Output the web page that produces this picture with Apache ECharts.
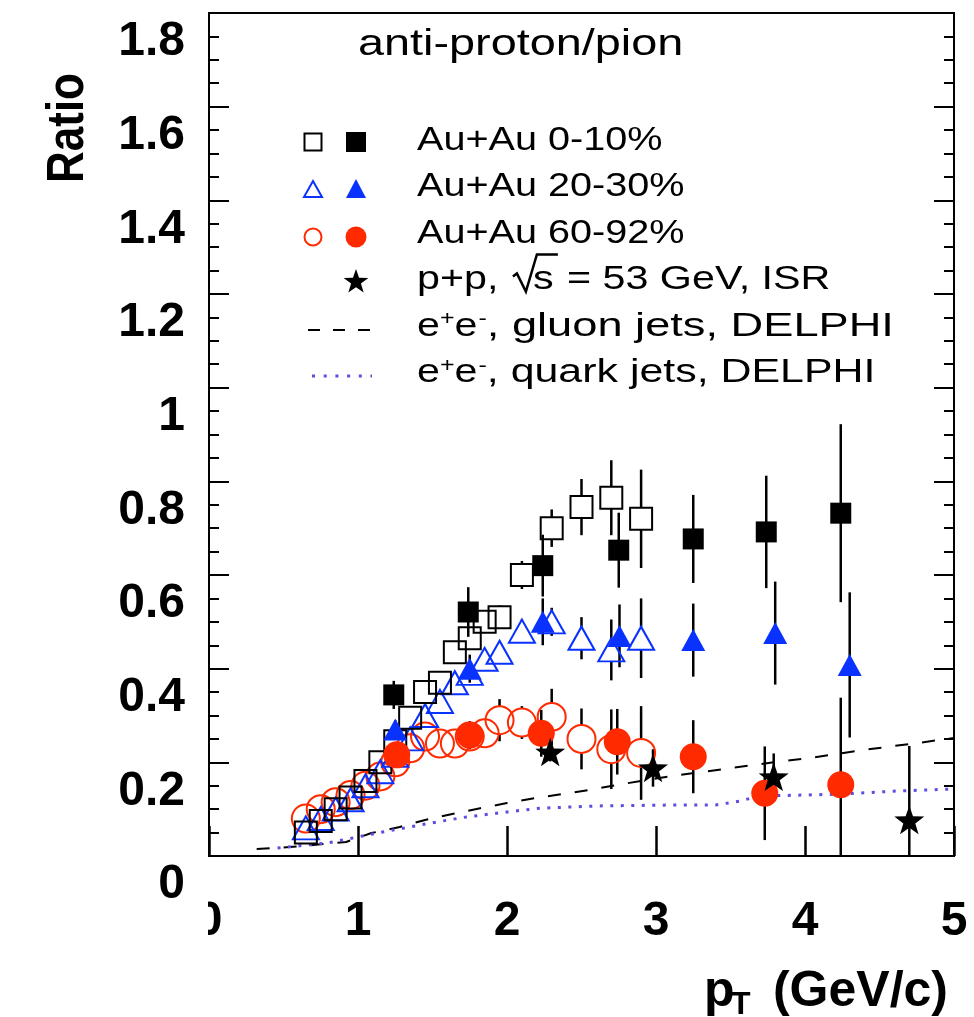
<!DOCTYPE html>
<html><head><meta charset="utf-8">
<script src="https://cdn.jsdelivr.net/npm/echarts@6/dist/echarts.min.js"></script>
<style>html,body{margin:0;padding:0;background:#fff}#c{width:974px;height:1017px}</style>
</head><body><div id="c"></div>
<script>
// ---------------- data ----------------
const xTickLabels = ['0', '1', '2', '3', '4', '5'];
const yTickLabels = ['0', '0.2', '0.4', '0.6', '0.8', '1', '1.2', '1.4', '1.6', '1.8'];

// open markers (low-pT identified spectra)
const ptOpen = [0.65, 0.75, 0.85, 0.95, 1.05, 1.15, 1.25, 1.35, 1.45, 1.55, 1.65, 1.75, 1.85, 1.95, 2.1, 2.3, 2.5, 2.7, 2.9];
const auau010Open = [0.050, 0.075, 0.100, 0.125, 0.160, 0.200, 0.245, 0.295, 0.350, 0.370, 0.435, 0.465, 0.500, 0.510, 0.600, 0.700, 0.745, 0.765, 0.720];
const auau010OpenErr = [0.004, 0.005, 0.006, 0.007, 0.008, 0.009, 0.010, 0.012, 0.013, 0.015, 0.017, 0.020, 0.022, 0.025, 0.030, 0.040, 0.060, 0.080, 0.105];
const auau2030Open = [0.060, 0.080, 0.100, 0.120, 0.150, 0.180, 0.215, 0.250, 0.300, 0.330, 0.370, 0.390, 0.420, 0.435, 0.480, 0.500, 0.465, 0.440, 0.465];
const auau2030OpenErr = [0.004, 0.005, 0.005, 0.006, 0.007, 0.008, 0.009, 0.010, 0.012, 0.014, 0.016, 0.018, 0.020, 0.022, 0.025, 0.030, 0.045, 0.065, 0.085];
const auau6092Open = [0.080, 0.100, 0.115, 0.130, 0.150, 0.170, 0.200, 0.230, 0.255, 0.240, 0.240, 0.255, 0.262, 0.290, 0.285, 0.297, 0.250, 0.228, 0.220];
const auau6092OpenErr = [0.005, 0.005, 0.006, 0.007, 0.008, 0.009, 0.010, 0.011, 0.013, 0.015, 0.017, 0.020, 0.022, 0.045, 0.035, 0.060, 0.065, 0.085, 0.100];

// filled markers (high-pT)
const ptFilled010 = [1.24, 1.74, 2.24, 2.75, 3.25, 3.74, 4.24];
const auau010Filled = [0.344, 0.521, 0.620, 0.653, 0.677, 0.692, 0.732];
const auau010FilledErr = [0.030, 0.053, 0.066, 0.080, 0.094, 0.120, 0.190];
const ptFilled2030 = [1.25, 1.75, 2.24, 2.755, 3.25, 3.80, 4.30];
const auau2030Filled = [0.270, 0.400, 0.500, 0.470, 0.461, 0.476, 0.408];
const auau2030FilledErr = [0.020, 0.030, 0.050, 0.067, 0.078, 0.110, 0.155];
const ptFilled6092 = [1.26, 1.75, 2.23, 2.74, 3.25, 3.73, 4.24];
const auau6092Filled = [0.216, 0.258, 0.262, 0.244, 0.212, 0.134, 0.152];
const auau6092FilledErr = [0.020, 0.030, 0.050, 0.070, 0.078, 0.100, 0.186];

// p+p ISR
const ptISR = [2.29, 2.98, 3.79, 4.70];
const ppISR = [0.222, 0.188, 0.169, 0.077];
const ppISRErr = [0.020, 0.040, 0.050, 0.158];

// e+e- DELPHI curves
const gluonX = [0.32, 0.54, 0.92, 1.09, 1.28, 1.45, 1.64, 1.82, 2.00, 2.19, 2.37, 2.55, 2.80, 3.11, 3.51, 3.79, 4.03, 4.38, 4.75, 5.00];
const gluonY = [0.015, 0.019, 0.030, 0.049, 0.062, 0.077, 0.090, 0.102, 0.113, 0.124, 0.132, 0.141, 0.155, 0.171, 0.188, 0.200, 0.209, 0.226, 0.241, 0.252];
const quarkX = [0.46, 0.80, 1.13, 1.48, 1.72, 2.00, 2.22, 2.62, 3.16, 3.40, 3.56, 3.69, 4.23, 4.63, 5.00];
const quarkY = [0.017, 0.028, 0.049, 0.070, 0.083, 0.094, 0.102, 0.107, 0.109, 0.109, 0.117, 0.128, 0.132, 0.139, 0.143];

// ---------------- style ----------------
const BLUE = '#0a32ff';
const RED = '#ff2a00';
const PURPLE = '#5b4ee0';
const FONT = 'Liberation Sans';
const STAR = 'path://M0,-10L2.35,-3.24L9.51,-3.09L3.8,1.24L5.88,8.09L0,4L-5.88,8.09L-3.8,1.24L-9.51,-3.09L-2.35,-3.24Z';

function zip(xs, ys) { return xs.map((x, i) => [x, ys[i]]); }
function zip3(xs, ys, es) { return xs.map((x, i) => [x, ys[i], es[i]]); }

function errSeries(xs, ys, es, gap) {
  return {
    type: 'custom', z: 2, silent: true, clip: true,
    data: zip3(xs, ys, es),
    encode: { x: 0, y: 1 },
    renderItem: function (params, api) {
      const x = api.value(0), y = api.value(1), e = api.value(2);
      const c = api.coord([x, y]);
      const t = api.coord([x, y + e]);
      const b = api.coord([x, y - e]);
      const ch = [];
      const st = { stroke: '#000', lineWidth: 2.5 };
      if (c[1] - gap > t[1]) ch.push({ type: 'line', shape: { x1: c[0], y1: t[1], x2: c[0], y2: c[1] - gap }, style: st });
      if (b[1] > c[1] + gap) ch.push({ type: 'line', shape: { x1: c[0], y1: c[1] + gap, x2: c[0], y2: b[1] }, style: st });
      return { type: 'group', children: ch };
    }
  };
}

function scat(name, xs, ys, symbol, size, itemStyle, z) {
  return { name: name, type: 'scatter', data: zip(xs, ys), symbol: symbol, symbolSize: size, symbolKeepAspect: true,
    itemStyle: Object.assign({ opacity: 1 }, itemStyle), z: z, silent: true, emphasis: { disabled: true } };
}

const OPEN = 'rgba(0,0,0,0)';

// ---------------- graphic (legend, titles) ----------------
const mctx = document.createElement('canvas').getContext('2d');
function tw(s, size, weight) { mctx.font = (weight || 'normal') + ' ' + size + 'px "' + FONT + '"'; return mctx.measureText(s).width; }

const G = [];
function txt(s, x, y, size, opts) {
  opts = opts || {};
  const sx = opts.scaleX || 1;
  G.push({ type: 'text', x: x, y: y, scaleX: sx, scaleY: opts.scaleY || 1, rotation: opts.rotation || 0, silent: true, z: 100,
    style: { text: s, fontSize: size, fontFamily: FONT, fontWeight: opts.weight || 'normal', fill: opts.color || '#000',
      align: opts.align || 'left', verticalAlign: 'middle' } });
  return x + tw(s, size, opts.weight) * sx;
}

// title
txt('anti-proton/pion', 358, 45, 36, { scaleX: 1.3 });

// legend text
const LS = 33, TX = 417;
const rows = [140.5, 187, 233.5, 280, 326.5, 373];
txt('Au+Au 0-10%', TX, rows[0], LS, { scaleX: 1.2 });
txt('Au+Au 20-30%', TX, rows[1], LS, { scaleX: 1.2 });
txt('Au+Au 60-92%', TX, rows[2], LS, { scaleX: 1.2 });
// p+p, sqrt(s) = 53 GeV, ISR
const LX = 1.25;
let cx = txt('p+p, ', TX, rows[3], LS, { scaleX: LX });
const rb = rows[3] + 10.5; // baseline
G.push({ type: 'polyline', silent: true, z: 100, shape: { points: [[cx + 3, rb - 14], [cx + 7, rb - 17], [cx + 16, rb + 1], [cx + 27, rb - 36], [cx + 48, rb - 36]] },
  style: { stroke: '#000', lineWidth: 2.5, fill: null } });
cx = txt('s', cx + 23, rows[3], LS, { scaleX: LX });
txt(' = 53 GeV, ISR', cx + 2, rows[3], LS, { scaleX: LX });
// e+e- rows
function eeRow(y, rest, sx) {
  let x = txt('e', TX, y, LS, { scaleX: LX });
  x = txt('+', x, y - 7, 20, { scaleX: LX });
  x = txt('e', x, y, LS, { scaleX: LX });
  x = txt('-', x + 1, y - 7, 20, { scaleX: LX });
  txt(rest, x, y, LS, { scaleX: sx });
}
eeRow(rows[4], ', gluon jets, DELPHI', 1.37);
eeRow(rows[5], ', quark jets, DELPHI', 1.3);

// legend symbols
const S1 = 313, S2 = 356;
G.push({ type: 'rect', silent: true, z: 100, shape: { x: S1 - 8.5, y: 142 - 8.5, width: 17, height: 17 }, style: { fill: null, stroke: '#000', lineWidth: 2 } });
G.push({ type: 'rect', silent: true, z: 100, shape: { x: S2 - 10, y: 142 - 10, width: 20, height: 20 }, style: { fill: '#000' } });
G.push({ type: 'polygon', silent: true, z: 100, shape: { points: [[S1, 181], [S1 + 9, 197], [S1 - 9, 197]] }, style: { fill: null, stroke: BLUE, lineWidth: 2 } });
G.push({ type: 'polygon', silent: true, z: 100, shape: { points: [[S2, 179], [S2 + 10, 198], [S2 - 10, 198]] }, style: { fill: BLUE } });
G.push({ type: 'circle', silent: true, z: 100, shape: { cx: S1, cy: 237, r: 8.5 }, style: { fill: null, stroke: RED, lineWidth: 2 } });
G.push({ type: 'circle', silent: true, z: 100, shape: { cx: S2, cy: 237, r: 10.5 }, style: { fill: RED } });
(function () {
  const p = [[0, -10], [2.35, -3.24], [9.51, -3.09], [3.8, 1.24], [5.88, 8.09], [0, 4], [-5.88, 8.09], [-3.8, 1.24], [-9.51, -3.09], [-2.35, -3.24]];
  G.push({ type: 'polygon', silent: true, z: 100, shape: { points: p.map(q => [S2 + q[0] * 1.3, 282 + q[1] * 1.3]) }, style: { fill: '#000' } });
})();
G.push({ type: 'line', silent: true, z: 100, shape: { x1: 308, y1: 330, x2: 378, y2: 330 }, style: { stroke: '#000', lineWidth: 2, lineDash: [12, 13] } });
G.push({ type: 'line', silent: true, z: 100, shape: { x1: 312, y1: 376, x2: 372, y2: 376 }, style: { stroke: PURPLE, lineWidth: 3, lineDash: [3, 8.7] } });

// axis titles
txt('Ratio', 69, 128, 44, { weight: 'bold', rotation: Math.PI / 2, scaleY: 1.18, align: 'center' });
txt('p', 704, 992, 50, { weight: 'bold' });
txt('T', 731, 1005, 32, { weight: 'bold' });
txt('(GeV/c)', 948, 992, 50, { weight: 'bold', align: 'right' });

// mask the left half of the x-axis "0" label (clipped in the reference)
G.push({ type: 'rect', silent: true, z: 100, shape: { x: 150, y: 900, width: 58, height: 50 }, style: { fill: '#fff' } });

// ---------------- chart ----------------
const chart = echarts.init(document.getElementById('c'), null, { renderer: 'canvas' });
const axisLine = { show: true, onZero: false, lineStyle: { color: '#000', width: 2 } };
const labelFont = { fontFamily: FONT, fontWeight: 'bold', fontSize: 48, color: '#000' };

chart.setOption({
  animation: false,
  backgroundColor: '#fff',
  grid: { left: 209, right: 20, top: 13, bottom: 161, show: true, borderColor: '#000', borderWidth: 2, backgroundColor: 'transparent', outerBoundsMode: 'none', containLabel: false },
  xAxis: [{
    type: 'value', min: 0, max: 5, interval: 1, position: 'bottom',
    axisLine: axisLine,
    axisTick: { show: true, inside: true, length: 30, lineStyle: { color: '#000', width: 2.5 } },
    minorTick: { show: false },
    splitLine: { show: false },
    axisLabel: Object.assign({ margin: 42, showMinLabel: true, showMaxLabel: true, formatter: v => xTickLabels[Math.round(v)] }, labelFont)
  }],
  yAxis: [{
    type: 'value', min: 0, max: 1.8, interval: 0.2, position: 'left',
    axisLine: axisLine,
    axisTick: { show: true, inside: true, length: 20, lineStyle: { color: '#000', width: 2 } },
    minorTick: { show: true, splitNumber: 4, length: 10, lineStyle: { color: '#000', width: 2 } },
    splitLine: { show: false }, minorSplitLine: { show: false },
    axisLabel: Object.assign({ margin: 24, showMinLabel: true, showMaxLabel: true, verticalAlign: 'top', lineHeight: 58,
      formatter: v => yTickLabels[Math.round(v / 0.2)] }, labelFont)
  }, {
    type: 'value', min: 0, max: 1.8, interval: 0.2, position: 'right',
    axisLine: axisLine,
    axisTick: { show: true, inside: true, length: 20, lineStyle: { color: '#000', width: 2 } },
    minorTick: { show: true, splitNumber: 4, length: 10, lineStyle: { color: '#000', width: 2 } },
    splitLine: { show: false }, minorSplitLine: { show: false },
    axisLabel: { show: false }
  }],
  series: [
    { name: 'e+e- gluon jets, DELPHI', type: 'line', data: zip(gluonX, gluonY), showSymbol: false, silent: true, z: 1, clip: true,
      lineStyle: { color: '#000', width: 2, type: [13, 14] } },
    { name: 'e+e- quark jets, DELPHI', type: 'line', data: zip(quarkX, quarkY), showSymbol: false, silent: true, z: 1, clip: true,
      lineStyle: { color: PURPLE, width: 3, type: [3, 7.5] } },
    errSeries(ptOpen, auau010Open, auau010OpenErr, 11),
    errSeries(ptOpen, auau2030Open, auau2030OpenErr, 11),
    errSeries(ptOpen, auau6092Open, auau6092OpenErr, 14),
    errSeries(ptFilled010, auau010Filled, auau010FilledErr, 0),
    errSeries(ptFilled2030, auau2030Filled, auau2030FilledErr, 0),
    errSeries(ptFilled6092, auau6092Filled, auau6092FilledErr, 0),
    errSeries(ptISR, ppISR, ppISRErr, 0),
    scat('Au+Au 60-92% (open)', ptOpen, auau6092Open, 'circle', 28, { color: OPEN, borderColor: RED, borderWidth: 2 }, 3),
    scat('Au+Au 20-30% (open)', ptOpen, auau2030Open, 'triangle', [26, 23], { color: OPEN, borderColor: BLUE, borderWidth: 2 }, 3),
    scat('Au+Au 0-10% (open)', ptOpen, auau010Open, 'rect', 22, { color: OPEN, borderColor: '#000', borderWidth: 2 }, 3),
    scat('Au+Au 60-92%', ptFilled6092, auau6092Filled, 'circle', 27, { color: RED }, 4),
    scat('Au+Au 20-30%', ptFilled2030, auau2030Filled, 'triangle', [24, 22], { color: BLUE }, 4),
    scat('Au+Au 0-10%', ptFilled010, auau010Filled, 'rect', 21, { color: '#000' }, 4),
    scat('p+p ISR', ptISR, ppISR, STAR, 30, { color: '#000' }, 5)
  ],
  graphic: { elements: G }
});
</script>
</body></html>
